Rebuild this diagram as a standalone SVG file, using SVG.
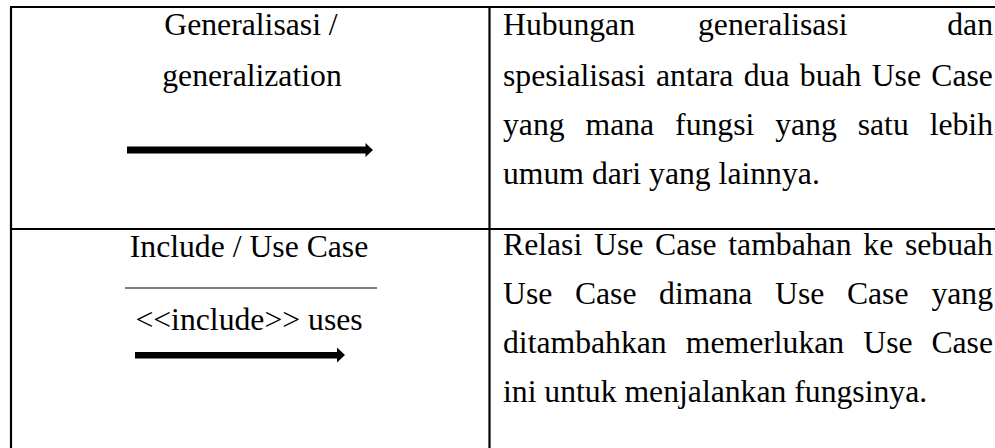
<svg xmlns="http://www.w3.org/2000/svg" width="995" height="448" viewBox="0 0 995 448">
  <style>
    .t { font-family: "Liberation Serif", "Times New Roman", serif; font-size: 31.7px; fill: #000; }
    .c { text-anchor: middle; }
    .e { text-anchor: end; }
    .grid { stroke: #000; stroke-width: 2.2; fill: none; }
    .thin { stroke: #000; stroke-width: 1.2; fill: none; }
    .arrow { fill: #000; }
  </style>
  <rect width="995" height="448" fill="#fff"/>
  <g id="table-lines">
    <line class="grid" x1="10" y1="7" x2="995" y2="7"/>
    <line class="grid" x1="10" y1="229" x2="995" y2="229"/>
    <line class="grid" x1="11" y1="6" x2="11" y2="448"/>
    <line class="grid" x1="489.5" y1="6" x2="489.5" y2="448"/>
  </g>
  <g id="row-generalization">
    <text class="t c" x="251" y="35">Generalisasi /</text>
    <text class="t c" x="252" y="86">generalization</text>
    <text class="t" y="35"><tspan x="503">Hubungan</tspan><tspan x="698">generalisasi</tspan></text>
    <text class="t e" x="993" y="35">dan</text>
    <text class="t" y="86"><tspan x="503">spesialisasi</tspan><tspan x="656">antara</tspan><tspan x="743.7">dua</tspan><tspan x="799.8">buah</tspan><tspan x="871.7">Use</tspan><tspan x="931.3">Case</tspan></text>
    <text class="t" y="135"><tspan x="503">yang</tspan><tspan x="585.5">mana</tspan><tspan x="675.1">fungsi</tspan><tspan x="775.2">yang</tspan><tspan x="857.7">satu</tspan></text>
    <text class="t e" x="993" y="135">lebih</text>
    <text class="t" x="503" y="184">umum dari yang lainnya.</text>
  </g>
  <g id="row-include">
    <text class="t c" x="249" y="257">Include / Use Case</text>
    <line class="thin" x1="125" y1="288" x2="377" y2="288"/>
    <text class="t c" x="249" y="330">&lt;&lt;include&gt;&gt; uses</text>
    <text class="t" y="255"><tspan x="503">Relasi</tspan><tspan x="594">Use</tspan><tspan x="655">Case</tspan><tspan x="728.3">tambahan</tspan><tspan x="863.3">ke</tspan><tspan x="904.9">sebuah</tspan></text>
    <text class="t" y="304"><tspan x="503">Use</tspan><tspan x="574.9">Case</tspan><tspan x="659.1">dimana</tspan><tspan x="775">Use</tspan><tspan x="846.9">Case</tspan></text>
    <text class="t e" x="993" y="304">yang</text>
    <text class="t" y="353"><tspan x="503">ditambahkan</tspan><tspan x="685.8">memerlukan</tspan><tspan x="863.3">Use</tspan></text>
    <text class="t e" x="993" y="353">Case</text>
    <text class="t" x="503" y="402">ini untuk menjalankan fungsinya.</text>
  </g>
  <g id="connectors">
    <path class="arrow" d="M127,146.5 H365.5 V143 L373,150 L365.5,157 V153.5 H127 Z"/>
    <path class="arrow" d="M135,352 H337 V347.5 L345,355 L337,362.5 V358.5 H135 Z"/>
  </g>
</svg>
